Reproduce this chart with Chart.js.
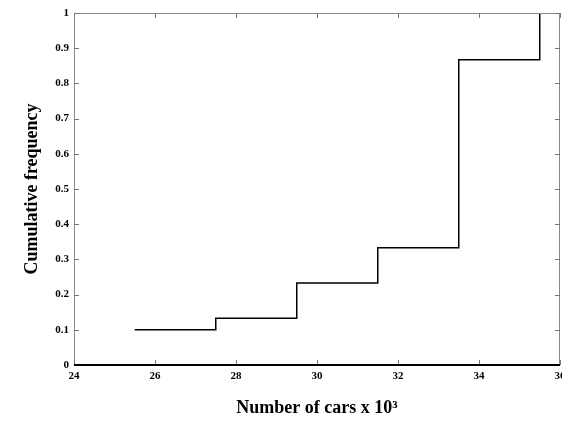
<!DOCTYPE html>
<html>
<head>
<meta charset="utf-8">
<script src="https://cdn.jsdelivr.net/npm/chart.js@4/dist/chart.umd.min.js"></script>
<style>
  html, body { margin: 0; padding: 0; background: #fff; }
  #wrap { width: 562px; height: 422px; }
</style>
</head>
<body>
<div id="wrap"><canvas id="myChart" width="562" height="422"></canvas></div>
<script>
// data
var carsThousands = [25.5, 27.5, 29.5, 31.5, 33.5, 35.5];
var cumulativeFreq = [0.1, 0.133, 0.233, 0.333, 0.867, 1.0];
var xTickValues = [24, 26, 28, 30, 32, 34, 36];
var yTickValues = [0, 0.1, 0.2, 0.3, 0.4, 0.5, 0.6, 0.7, 0.8, 0.9, 1];

var points = carsThousands.map(function (x, i) {
  return { x: x, y: cumulativeFreq[i] };
});

var tickFont = { family: "'Liberation Serif', serif", size: 11, weight: "bold" };

// frame + inward tick marks, like the original plot
var frameTicks = {
  id: "frameTicks",
  afterDraw: function (chart) {
    var ctx = chart.ctx;
    var a = chart.chartArea;
    var xs = chart.scales.x;
    var ys = chart.scales.y;
    ctx.save();
    ctx.lineWidth = 1;
    ctx.strokeStyle = "#8a8a8a";
    ctx.beginPath();
    ctx.moveTo(a.left + 0.5, a.top + 0.5);
    ctx.lineTo(a.right - 0.5, a.top + 0.5);
    ctx.lineTo(a.right - 0.5, a.bottom);
    ctx.moveTo(a.left + 0.5, a.top + 0.5);
    ctx.lineTo(a.left + 0.5, a.bottom);
    ctx.stroke();

    ctx.strokeStyle = "#777";
    ctx.beginPath();
    xTickValues.forEach(function (v) {
      var px = Math.round(xs.getPixelForValue(v)) + 0.5;
      ctx.moveTo(px, a.bottom);
      ctx.lineTo(px, a.bottom - 5);
      ctx.moveTo(px, a.top);
      ctx.lineTo(px, a.top + 5);
    });
    yTickValues.forEach(function (v) {
      var py = Math.round(ys.getPixelForValue(v)) + 0.5;
      ctx.moveTo(a.left, py);
      ctx.lineTo(a.left + 5, py);
      ctx.moveTo(a.right, py);
      ctx.lineTo(a.right - 5, py);
    });
    ctx.stroke();

    ctx.strokeStyle = "#000";
    ctx.lineWidth = 2;
    ctx.beginPath();
    ctx.moveTo(a.left, a.bottom);
    ctx.lineTo(a.right, a.bottom);
    ctx.stroke();
    ctx.restore();
  }
};

var ctx = document.getElementById("myChart").getContext("2d");
var myChart = new Chart(ctx, {
  type: "line",
  data: {
    datasets: [
      {
        label: "cdf",
        data: points,
        stepped: "before",
        borderColor: "#000",
        borderWidth: 1.5,
        pointRadius: 0,
        fill: false,
      },
    ],
  },
  options: {
    responsive: false,
    devicePixelRatio: 1,
    animation: false,
    layout: { padding: { top: 13, right: 2, left: 0, bottom: 0 } },
    plugins: {
      legend: { display: false },
      tooltip: { enabled: false },
    },
    scales: {
      x: {
        type: "linear",
        min: 24,
        max: 36,
        afterBuildTicks: function (s) {
          s.ticks = xTickValues.map(function (v) { return { value: v }; });
        },
        afterFit: function (s) {
          s.height = 57;
          s.paddingLeft = 0;
          s.paddingRight = 0;
        },
        grid: { display: false, drawTicks: false },
        border: { display: false },
        ticks: { color: "#000", font: tickFont, padding: 5, maxRotation: 0 },
        title: {
          display: true,
          text: "Number of cars x 10\u00b3",
          color: "#000",
          font: { family: "'Liberation Serif', serif", size: 18, weight: "bold" },
          padding: { top: 0, bottom: 3 },
        },
      },
      y: {
        type: "linear",
        min: 0,
        max: 1,
        afterBuildTicks: function (s) {
          s.ticks = yTickValues.map(function (v) { return { value: v }; });
        },
        afterFit: function (s) {
          s.width = 74;
          s.paddingTop = 0;
          s.paddingBottom = 0;
        },
        grid: { display: false, drawTicks: false },
        border: { display: false },
        ticks: {
          color: "#000",
          font: tickFont,
          padding: 5,
          callback: function (v) { return String(v); },
        },
        title: {
          display: true,
          text: "Cumulative frequency",
          color: "#000",
          font: { family: "'Liberation Serif', serif", size: 18, weight: "bold" },
          padding: { top: 22, bottom: 0 },
        },
      },
    },
  },
  plugins: [frameTicks],
});
</script>
</body>
</html>
